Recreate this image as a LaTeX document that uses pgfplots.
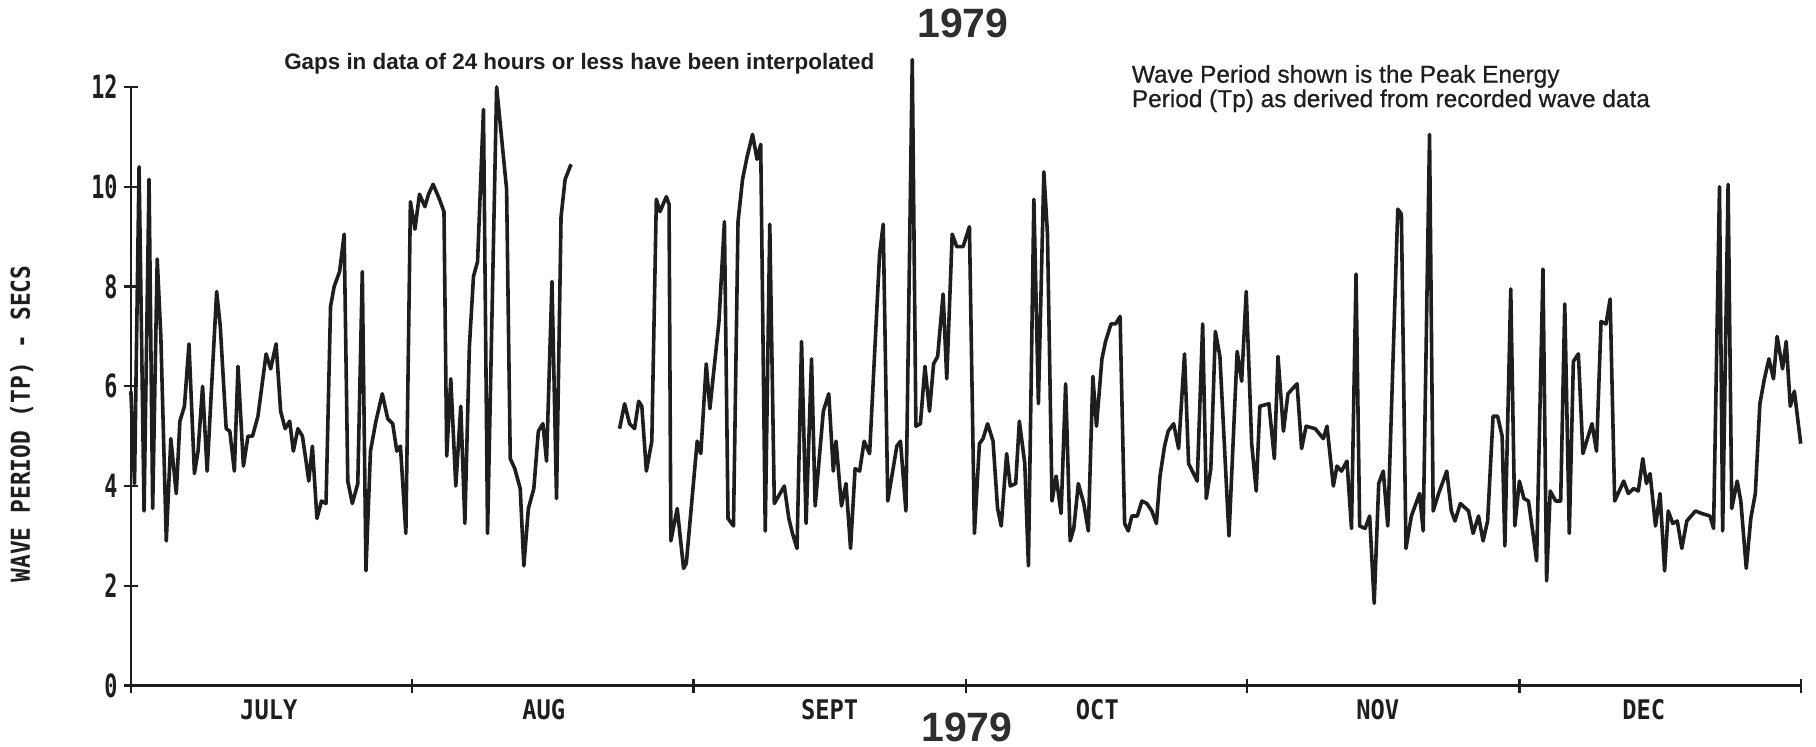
\documentclass[border=0pt]{standalone}
\usepackage{fontspec}
\setmainfont{Liberation Sans}
\usepackage{pgfplots}
\usepackage{pgfplotstable}
\pgfplotsset{compat=1.18}
\newfontfamily\plotfont[FakeStretch=0.88]{DejaVu Sans Mono}
\newfontfamily\tickfont[FakeStretch=0.68]{DejaVu Sans Mono}
\newfontfamily\notefont[FakeBold=0.7]{Liberation Sans}
\definecolor{ink}{HTML}{1E1E1E}
\definecolor{titleink}{HTML}{2E2E2E}

% Peak energy wave period Tp (s); x = days since 1 July 1979
\pgfplotstableread{
day tp
0 5.9
0.4 4.05
0.9 10.4
1.45 3.5
2.0 10.15
2.4 3.55
2.9 8.55
3.3 7.0
3.9 2.9
4.4 4.95
5.0 3.85
5.4 5.3
5.9 5.6
6.4 6.85
7.0 4.25
7.4 4.7
7.9 6.0
8.4 4.3
9.45 7.9
9.85 7.2
10.5 5.15
10.9 5.1
11.4 4.3
11.8 6.4
12.4 4.4
12.9 5.0
13.4 5.0
14.0 5.4
14.9 6.65
15.4 6.35
16.0 6.85
16.5 5.5
17.0 5.15
17.5 5.3
17.9 4.7
18.4 5.15
18.9 5.0
19.3 4.5
19.6 4.1
20.0 4.8
20.5 3.35
21.0 3.7
21.5 3.65
22.0 7.6
22.4 8.0
23.0 8.3
23.5 9.05
23.9 4.1
24.4 3.65
25.0 4.05
25.5 8.3
25.9 2.3
26.4 4.7
27.0 5.3
27.7 5.85
28.3 5.35
28.85 5.25
29.3 4.7
29.7 4.8
30.3 3.05
30.8 9.7
31.3 9.15
31.8 9.85
32.4 9.6
32.8 9.85
33.3 10.05
34.0 9.75
34.5 9.5
34.8 4.6
35.25 6.15
35.8 4.0
36.35 5.6
36.8 3.25
37.3 6.8
37.75 8.2
38.2 8.5
38.85 11.55
39.3 3.05
40.3 12.0
41.4 9.95
41.8 4.55
42.3 4.35
42.9 3.95
43.3 2.4
43.8 3.55
44.4 3.95
44.9 5.1
45.4 5.25
45.8 4.5
46.4 8.1
46.9 3.75
47.4 9.4
47.85 10.15
48.5 10.45
}\segA

\pgfplotstableread{
day tp
53.85 5.15
54.4 5.65
54.95 5.25
55.5 5.15
55.95 5.7
56.3 5.6
56.8 4.3
57.4 4.9
57.9 9.75
58.3 9.5
59.0 9.8
59.3 9.65
59.5 2.9
60.2 3.55
60.9 2.35
61.2 2.45
62.4 4.9
62.8 4.65
63.4 6.45
63.8 5.55
64.8 7.3
65.4 9.3
65.8 3.35
66.4 3.2
66.9 9.3
67.4 10.15
67.9 10.6
68.5 11.05
69.0 10.55
69.4 10.85
69.9 3.1
70.4 9.25
70.9 3.65
72.0 4.0
72.5 3.35
72.9 3.05
73.4 2.75
73.9 6.9
74.4 3.25
75.0 6.55
75.4 3.6
76.3 5.5
76.9 5.85
77.4 4.3
77.7 4.9
78.3 3.6
78.8 4.05
79.3 2.75
79.8 4.35
80.3 4.3
80.8 4.9
81.4 4.65
82.5 8.65
82.9 9.25
83.4 3.7
84.4 4.8
84.8 4.9
85.4 3.5
86.1 12.55
86.5 5.2
87.0 5.25
87.5 6.4
88.0 5.5
88.45 6.45
88.9 6.6
89.5 7.85
89.9 6.15
90.5 9.05
91.0 8.8
91.7 8.8
92.4 9.2
92.95 3.05
93.5 4.85
93.9 4.95
94.4 5.25
95.0 4.9
95.5 3.55
95.9 3.2
96.5 4.65
96.9 4.0
97.5 4.05
97.9 5.3
98.5 4.45
98.9 2.4
99.5 9.75
100.0 5.65
100.6 10.3
101.0 9.05
101.5 3.7
101.95 4.2
102.5 3.45
103.0 6.05
103.5 2.9
103.9 3.15
104.4 4.05
105.0 3.65
105.5 3.1
106.0 6.2
106.4 5.2
107.0 6.55
107.4 6.9
108.0 7.25
108.5 7.25
109.0 7.4
109.5 3.25
109.9 3.1
110.3 3.4
110.9 3.4
111.4 3.7
111.95 3.65
112.5 3.5
113.0 3.25
113.4 4.2
113.9 4.8
114.3 5.1
114.9 5.25
115.45 4.75
116.1 6.65
116.55 4.45
117.5 4.1
118.1 7.25
118.5 3.75
119.0 4.35
119.5 7.1
120.0 6.6
121.0 3.0
121.9 6.7
122.4 6.1
122.9 7.9
123.5 4.85
124.0 3.9
124.4 5.6
125.4 5.65
126.0 4.55
126.4 6.6
127.0 5.1
127.5 5.85
128.5 6.05
129.0 4.75
129.5 5.2
130.5 5.15
131.4 4.95
131.8 5.2
132.5 4.0
132.9 4.4
133.4 4.3
134.0 4.5
134.5 3.15
135.0 8.25
135.4 3.2
136.0 3.15
136.5 3.4
137.0 1.65
137.5 4.05
138.0 4.3
138.5 3.2
139.6 9.55
140.0 9.45
140.5 2.75
141.1 3.4
142.0 3.85
142.4 3.1
143.1 11.05
143.5 3.5
144.1 3.85
145.0 4.3
145.5 3.5
145.9 3.3
146.5 3.65
147.4 3.5
147.9 3.05
148.5 3.4
149.0 2.9
149.5 3.3
150.1 5.4
150.6 5.4
151.1 5.0
151.4 2.8
152.05 7.95
152.5 3.2
153.0 4.1
153.5 3.75
154.0 3.7
154.5 3.05
154.9 2.5
155.6 8.35
156.0 2.1
156.4 3.9
157.0 3.7
157.55 3.7
158.0 7.65
158.5 3.05
158.95 6.5
159.5 6.65
160.0 4.65
160.5 4.95
161.0 5.25
161.5 4.7
162.0 7.3
162.55 7.25
163.0 7.75
163.5 3.7
164.5 4.1
165.0 3.85
165.6 3.95
166.1 3.9
166.6 4.55
167.0 4.05
167.4 4.25
168.0 3.2
168.5 3.85
169.0 2.3
169.4 3.5
169.9 3.25
170.4 3.3
170.9 2.75
171.45 3.3
172.4 3.5
173.1 3.45
174.0 3.4
174.4 3.15
175.05 10.0
175.4 3.1
176.0 10.05
176.4 3.55
177.0 4.1
177.4 3.7
178.0 2.35
178.5 3.35
179.0 3.85
179.5 5.65
180.0 6.15
180.5 6.55
181.0 6.15
181.4 7.0
182.0 6.35
182.4 6.9
182.85 5.6
183.3 5.9
184.0 4.85
}\segB

\begin{document}
\begin{tikzpicture}
\path[use as bounding box] (-65.45pt,-30.7pt) rectangle (842.55pt,342.8pt);
\begin{axis}[
  at={(0pt,0pt)}, anchor=south west,
  scale only axis, width=834.9pt, height=299.3pt,
  xmin=0, xmax=184, ymin=0, ymax=12,
  axis x line=bottom, axis y line=left,
  axis line style={-, line width=1.2pt, ink},
  xtick={0,31,62,92,123,153,184}, xticklabels={},
  ytick={0,2,4,6,8,10,12}, yticklabels={0,2,4,6,8,10,12},
  tick align=center, major tick length=7pt,
  tick style={line width=1.2pt, ink},
  yticklabel style={font=\tickfont\bfseries\fontsize{16}{16}\selectfont, text=ink, inner sep=0pt, xshift=-3pt},
  clip=false,
]
\addplot[ink, line width=1.8pt, line join=round, mark=none] table[x=day, y=tp] {\segA};
\addplot[ink, line width=1.8pt, line join=round, mark=none] table[x=day, y=tp] {\segB};

% month names under the time axis
\foreach \d/\m in {15.2/JULY, 45.5/AUG, 77.0/SEPT, 106.5/OCT, 137.4/NOV, 166.7/DEC}{
  \edef\next{\noexpand\node[font=\noexpand\plotfont\noexpand\bfseries\noexpand\fontsize{13.5}{13.5}\noexpand\selectfont, text=ink, inner sep=0pt, yshift=-12.2pt] at (axis cs:\d,0) {\m};}
  \next
}
\node[rotate=90, font=\plotfont\bfseries\fontsize{13}{13}\selectfont, text=ink, inner sep=0pt]
  at (axis description cs:-0.0654,0.437) {WAVE PERIOD (TP) - SECS};
\end{axis}

\node[font=\bfseries\fontsize{20.5}{20.5}\selectfont, text=titleink, inner sep=0pt] at (416pt,331pt) {1979};
\node[font=\bfseries\fontsize{20.5}{20.5}\selectfont, text=titleink, inner sep=0pt] at (418pt,-20.7pt) {1979};
\node[font=\bfseries\fontsize{11.2}{13}\selectfont, text=ink, inner sep=0pt] at (224.2pt,311pt)
  {Gaps in data of 24 hours or less have been interpolated};
\node[anchor=west, align=left, font=\notefont\fontsize{12.2}{12.2}\selectfont, text=ink, inner sep=0pt] at (500.3pt,298.5pt)
  {Wave Period shown is the Peak Energy\\Period (Tp) as derived from recorded wave data};
\end{tikzpicture}
\end{document}
